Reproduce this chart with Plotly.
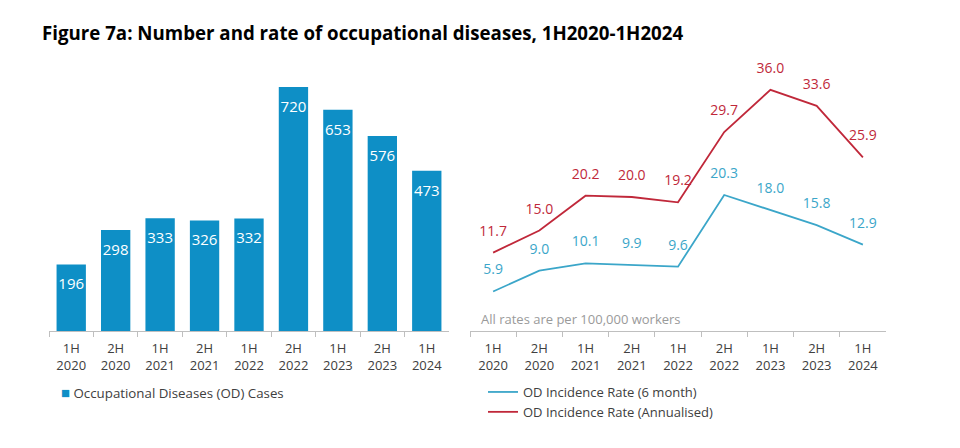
import plotly.graph_objects as go

# ── data ─────────────────────────────────────────────────────────────────────

PERIODS = ["1H<br>2020", "2H<br>2020", "1H<br>2021", "2H<br>2021", "1H<br>2022",
           "2H<br>2022", "1H<br>2023", "2H<br>2023", "1H<br>2024"]
OD_CASES = [196, 298, 333, 326, 332, 720, 653, 576, 473]
RATE_6M = [5.9, 9.0, 10.1, 9.9, 9.6, 20.3, 18.0, 15.8, 12.9]
RATE_ANNUAL = [11.7, 15.0, 20.2, 20.0, 19.2, 29.7, 36.0, 33.6, 25.9]

# ── style ────────────────────────────────────────────────────────────────────

FONT = "Open Sans, Noto Sans, sans-serif"
BAR_BLUE = "#0E8FC6"
LINE_BLUE = "#3BA6C9"
LINE_RED = "#C0283A"
TICK_COLOR = "#404040"
CLEAR = "rgba(0,0,0,0)"

W, H = 960, 448
OFF = 8  # page body margin in the browser


def px_x(p):
    return (p - OFF) / W


def px_y(p):
    return 1 - (p - OFF) / H


fig = go.Figure()

fig.add_trace(go.Bar(
    x=PERIODS, y=OD_CASES, name="Occupational Diseases (OD) Cases",
    marker_color=BAR_BLUE, marker_line_width=0, showlegend=False,
    xaxis="x", yaxis="y",
))
# value labels inside the top of each bar
fig.add_trace(go.Scatter(
    x=PERIODS, y=OD_CASES, mode="markers+text", showlegend=False,
    marker=dict(size=20, color=CLEAR),
    text=[str(v) for v in OD_CASES], textposition="bottom center",
    textfont=dict(color="white", size=15, family=FONT),
    hoverinfo="skip", xaxis="x", yaxis="y",
))

fig.add_trace(go.Scatter(
    x=PERIODS, y=RATE_6M, name="OD Incidence Rate (6 month)",
    mode="lines+markers+text", line=dict(color=LINE_BLUE, width=1.8),
    marker=dict(size=20, color=CLEAR),
    text=[f"{v:.1f}" for v in RATE_6M], textposition="top center",
    textfont=dict(color=LINE_BLUE, size=14, family=FONT),
    xaxis="x2", yaxis="y2", legend="legend2",
))
fig.add_trace(go.Scatter(
    x=PERIODS, y=RATE_ANNUAL, name="OD Incidence Rate (Annualised)",
    mode="lines+markers+text", line=dict(color=LINE_RED, width=1.8),
    marker=dict(size=20, color=CLEAR),
    text=[f"{v:.1f}" for v in RATE_ANNUAL], textposition="top center",
    textfont=dict(color=LINE_RED, size=14, family=FONT),
    xaxis="x2", yaxis="y2", legend="legend2",
))

XAX = dict(
    type="category", range=[-0.5, len(PERIODS) - 0.5],
    showline=True, linecolor="#bfbfbf", linewidth=1,
    ticks="outside", tickson="boundaries", ticklen=5, tickcolor="#bfbfbf",
    tickfont=dict(size=13, color=TICK_COLOR, family=FONT), ticklabelstandoff=5,
    showgrid=False, zeroline=False, fixedrange=True,
)
YAX = dict(visible=False, showgrid=False, zeroline=False, fixedrange=True)

fig.update_layout(
    width=W, height=H,
    margin=dict(l=0, r=0, t=0, b=0),
    paper_bgcolor="white", plot_bgcolor="white",
    font=dict(family=FONT, color=TICK_COLOR),
    title=dict(
        text="<b>Figure 7a: Number and rate of occupational diseases, 1H2020-1H2024</b>",
        x=px_x(42), xanchor="left", y=px_y(33), yanchor="middle",
        font=dict(size=18.7, color="black", family=FONT),
    ),
    xaxis=dict(**XAX, domain=[px_x(49), px_x(449)]),
    yaxis=dict(**YAX, domain=[px_y(331), px_y(60)], range=[0, 800]),
    xaxis2=dict(**XAX, domain=[px_x(470), px_x(886)], anchor="y2"),
    yaxis2=dict(**YAX, domain=[px_y(331), px_y(63)], range=[0, 40], anchor="x2"),
    bargap=0.34,
    showlegend=True,
    legend2=dict(
        x=px_x(483), y=px_y(377), xanchor="left", yanchor="top",
        font=dict(size=13, color=TICK_COLOR, family=FONT),
        bgcolor=CLEAR, itemwidth=30, tracegroupgap=0,
    ),
    annotations=[
        dict(
            text="All rates are per 100,000 workers",
            xref="paper", yref="paper", x=px_x(479), y=px_y(319),
            xanchor="left", yanchor="middle", showarrow=False,
            font=dict(size=13, color="#9a9a9a", family=FONT),
        ),
        dict(
            text=f"<span style='color:{BAR_BLUE};font-size:15px'>■</span> Occupational Diseases (OD) Cases",
            xref="paper", yref="paper", x=px_x(59), y=px_y(392),
            xanchor="left", yanchor="middle", showarrow=False,
            font=dict(size=13.3, color=TICK_COLOR, family=FONT),
        ),
    ],
)

fig.write_html("out.html")
